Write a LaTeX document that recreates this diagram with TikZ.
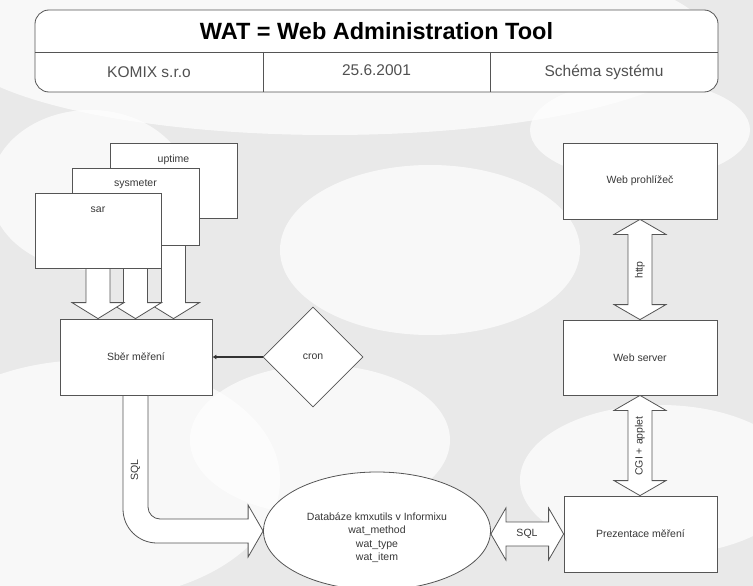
\documentclass[tikz,border=0pt]{standalone}
\usepackage{fontspec}
\setmainfont{Liberation Sans}
\usetikzlibrary{shapes.geometric,arrows.meta,calc}
\definecolor{bg}{RGB}{233,233,233}
\definecolor{ln}{RGB}{85,85,85}
\definecolor{txt}{RGB}{55,55,55}
\definecolor{subtxt}{RGB}{80,80,80}
\pgfdeclarelayer{bgl}
\pgfdeclarelayer{mid}
\pgfsetlayers{bgl,mid,main}
\newcommand\downblk[1]{%
  \draw[blk] let \p1=(#1.south), \p2=(sber.north) in
    (\x1-12pt,\y1) -- (\x1-12pt,\y2+16pt) -- (\x1-26pt,\y2+16pt) -- (\x1,\y2)
    -- (\x1+26pt,\y2+16pt) -- (\x1+12pt,\y2+16pt) -- (\x1+12pt,\y1) -- cycle;}
\newcommand\vdbl[2]{%
  \draw[blk] let \p1=(#1.south), \p2=(#2.north) in
    (\x1,\y1) -- (\x1+26pt,\y1-15pt) -- (\x1+12pt,\y1-15pt) -- (\x1+12pt,\y2+15pt)
    -- (\x1+26pt,\y2+15pt) -- (\x1,\y2) -- (\x1-26pt,\y2+15pt) -- (\x1-12pt,\y2+15pt)
    -- (\x1-12pt,\y1-15pt) -- (\x1-26pt,\y1-15pt) -- cycle;}
\newcommand\hdbl[2]{%
  \draw[blk] let \p1=(#1.east), \p2=(#2.west) in
    (\x1,\y2) -- (\x1+15pt,\y2+26pt) -- (\x1+15pt,\y2+12pt) -- (\x2-15pt,\y2+12pt)
    -- (\x2-15pt,\y2+26pt) -- (\x2,\y2) -- (\x2-15pt,\y2-26pt) -- (\x2-15pt,\y2-12pt)
    -- (\x1+15pt,\y2-12pt) -- (\x1+15pt,\y2-26pt) -- cycle;}
\begin{document}
\begin{tikzpicture}[x=1pt,y=-1pt,
  box/.style={draw=ln,fill=white,line width=0.8pt,rectangle,inner sep=0pt,
    font=\fontsize{10.5}{13}\selectfont,text=txt},
  blk/.style={draw=ln,fill=white,line width=0.8pt,line join=miter},
  lbl/.style={font=\fontsize{10.5}{13}\selectfont,text=txt,inner sep=1pt},
  sub/.style={font=\fontsize{15.5}{18}\selectfont,text=subtxt},
  cloud/.style={fill=white,opacity=0.7}]
\useasboundingbox (0,0) rectangle (753,586);
\begin{pgfonlayer}{bgl}
\fill[bg] (0,0) rectangle (753,586);
\fill[cloud] (330,40) ellipse [x radius=380,y radius=95];
\fill[cloud] (90,480) ellipse [x radius=190,y radius=120];
\fill[cloud] (320,440) ellipse [x radius=130,y radius=75];
\fill[cloud] (430,250) ellipse [x radius=150,y radius=85];
\fill[cloud] (660,480) ellipse [x radius=140,y radius=75];
\fill[cloud] (90,190) ellipse [x radius=100,y radius=80];
\fill[cloud] (640,130) ellipse [x radius=110,y radius=50];
\end{pgfonlayer}
% header
\draw[ln,line width=0.8pt,fill=white,rounded corners=14pt] (35,10) rectangle (718,92);
\draw[ln,line width=0.8pt] (35,52) -- (718,52) (263,52) -- (263,92) (490,52) -- (490,92);
\node[font=\bfseries\fontsize{23.5}{26}\selectfont] (title) at (376.5,31) {WAT = Web Administration Tool};
\node[sub] (komix) at (149,72) {KOMIX s.r.o};
\node[sub] (datum) at (376.5,70) {25.6.2001};
\node[sub] (schema) at (604,72) {Schéma systému};
% boxes
\node[box,minimum width=127pt,minimum height=75pt] (uptime) at (173.5,180.5) {};
\node[box,minimum width=127pt,minimum height=77pt] (sysmeter) at (135.5,206.5) {};
\node[box,minimum width=126pt,minimum height=75pt] (sar) at (98,230.5) {};
\node[lbl] (lupt) at ([yshift=-17pt]uptime.north) {uptime};
\node[lbl] (lsys) at ([yshift=-17pt]sysmeter.north) {sysmeter};
\node[lbl] (lsar) at ([yshift=-17pt]sar.north) {sar};
\node[box,minimum width=152pt,minimum height=76pt] (sber) at (136,357) {Sběr měření};
\node[draw=ln,fill=white,line width=0.8pt,diamond,aspect=1,minimum width=100pt,minimum height=100pt,inner sep=0pt,
  font=\fontsize{10.5}{13}\selectfont,text=txt] (cron) at (313,357) {cron};
\node[box,minimum width=154pt,minimum height=76pt] (wp) at (640,181) {Web prohlížeč};
\node[box,minimum width=154pt,minimum height=75pt] (ws) at (640,357.5) {Web server};
\node[box,minimum width=153pt,minimum height=76pt] (prez) at (640.5,534) {Prezentace měření};
\node[draw=ln,fill=white,line width=0.8pt,ellipse,minimum width=227pt,minimum height=118pt,inner sep=0pt] (db) at (377,531) {};
\node[lbl,align=center,font=\fontsize{10.5}{13.5}\selectfont] (dbt) at ([yshift=-6.5pt]db.center)
  {Databáze kmxutils v Informixu\\wat\_method\\wat\_type\\wat\_item};
% block arrows into Sber
\begin{pgfonlayer}{mid}
\downblk{uptime}
\downblk{sysmeter}
\downblk{sar}
\end{pgfonlayer}
% cron -> sber
\draw[black!80,line width=1.6pt,-{Latex[length=4pt,width=5pt]}] (cron.west) -- (sber.east);
% SQL bent arrow
\draw[blk] let \p1=(sber.south), \p2=(db.west) in
  (\x1-13pt,\y1) -- (\x1-13pt,\y2+22pt) .. controls (\x1-13pt,\y2+3.2pt) and (\x1+2.2pt,\y2-12pt) .. (\x1+21pt,\y2-12pt)
  -- (\x2-15pt,\y2-12pt) -- (\x2-15pt,\y2-26pt) -- (\x2,\y2) -- (\x2-15pt,\y2+26pt) -- (\x2-15pt,\y2+12pt)
  -- (\x1+24pt,\y2+12pt) .. controls (\x1+17.4pt,\y2+12pt) and (\x1+12pt,\y2+17.4pt) .. (\x1+12pt,\y2+24pt)
  -- (\x1+12pt,\y1) -- cycle;
\node[lbl,rotate=90] (lsql1) at (135.5,470) {SQL};
% right arrows
\vdbl{wp}{ws}
\node[lbl,rotate=90] (lhttp) at (640,270) {http};
\vdbl{ws}{prez}
\node[lbl,rotate=90] (lcgi) at (640,446) {CGI + applet};
\hdbl{db}{prez}
\node[lbl] (lsql2) at (527,534) {SQL};
\end{tikzpicture}
\end{document}
